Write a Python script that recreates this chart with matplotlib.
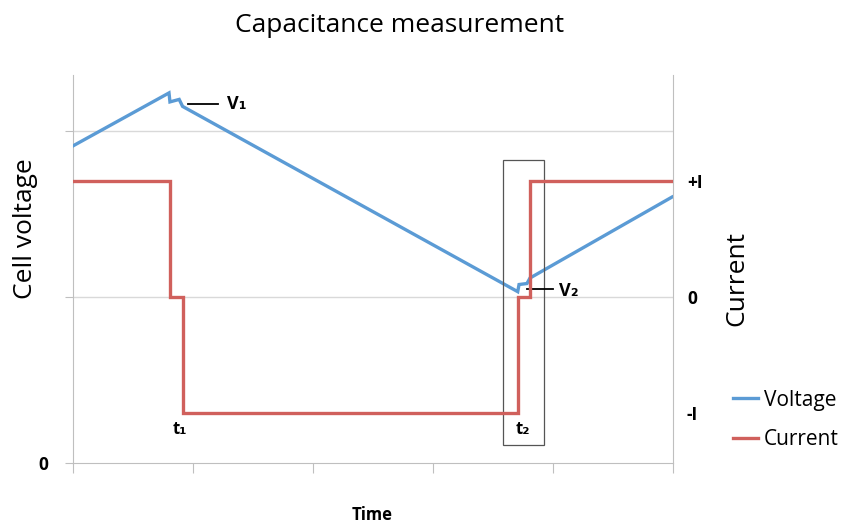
import matplotlib
matplotlib.use("Agg")
import matplotlib.pyplot as plt
from matplotlib.patches import Rectangle

plt.rcParams['font.family'] = ['Open Sans', 'DejaVu Sans']

# ---- data (x in tick-interval units) ----
volt_x = [0.0, 0.80, 0.808, 0.885, 0.913, 3.706, 3.717, 3.783, 3.808, 4.992]
volt_y = [1.910, 2.229, 2.175, 2.190, 2.148, 1.032, 1.075, 1.081, 1.114, 1.602]
curr_x = [0.0, 0.808, 0.808, 0.913, 0.913, 3.706, 3.706, 3.808, 3.808, 4.992]
curr_y = [1, 1, 0, 0, -1, -1, 0, 0, 1, 1]
x_ticks = [0, 1, 2, 3, 4, 5]
left_ticks = [0, 1, 2]
left_labels = ['0', '', '']
right_ticks = [-1, 0, 1]
right_labels = ['-I', '0', '+I']

blue = '#5B9BD5'
red = '#D0605C'
grid_c = '#D9D9D9'
axis_c = '#BFBFBF'

fig = plt.figure(figsize=(8.42, 5.24), dpi=100)
ax = fig.add_axes([73/842, 1-463/524, 600/842, 388/524])
ax2 = ax.twinx()

ax.set_xlim(0, 5)
ax.set_ylim(0, 2.337)
ax2.set_ylim(-1.431, 1.914)

# gridlines
for yv in [1, 2]:
    ax.axhline(yv, color=grid_c, lw=1, zorder=0)

lv, = ax.plot(volt_x, volt_y, color=blue, lw=2.4, solid_joinstyle='miter', zorder=3)
lc, = ax2.plot(curr_x, curr_y, color=red, lw=2.4, solid_joinstyle='miter', zorder=3)

# box around t2
ax.add_patch(Rectangle((3.583, 0.108), 0.342, 1.717, fill=False,
                       edgecolor='#555555', lw=0.9, zorder=4))

# annotations
ax.plot([0.958, 1.208], [2.163, 2.163], color='black', lw=1.3, zorder=5)
ax.text(1.28, 2.163, 'V\u2081', fontsize=13, fontweight='bold', va='center', ha='left')
ax.plot([3.783, 4.0], [1.048, 1.048], color='black', lw=1.3, zorder=5)
ax.text(4.05, 1.035, 'V\u2082', fontsize=13, fontweight='bold', va='center', ha='left')
ax.text(0.89, 0.205, 't\u2081', fontsize=12, fontweight='bold', va='center', ha='center')
ax.text(3.75, 0.205, 't\u2082', fontsize=12, fontweight='bold', va='center', ha='center')

# spines & ticks
for a in (ax, ax2):
    for s in a.spines.values():
        s.set_visible(False)
ax.spines['left'].set_visible(True)
ax.spines['left'].set_color(axis_c)
ax.spines['bottom'].set_visible(True)
ax.spines['bottom'].set_color(axis_c)
ax2.spines['right'].set_visible(True)
ax2.spines['right'].set_color(axis_c)

ax.set_xticks(x_ticks)
ax.set_xticklabels([])
ax.tick_params(axis='x', direction='out', length=7, color=axis_c)
ax.set_yticks(left_ticks)
ax.set_yticklabels(left_labels, fontsize=12.5, fontweight='bold')
ax.tick_params(axis='y', direction='out', length=6, color=axis_c, pad=12)
ax2.set_yticks(right_ticks)
ax2.set_yticklabels(right_labels, fontsize=12.5, fontweight='bold')
ax2.tick_params(axis='y', length=0, pad=10)

fig.text(372/842, 1-515/524, 'Time', fontsize=12, fontweight='bold', ha='center', va='center')
fig.text(26/842, 1-229/524, 'Cell voltage', fontsize=19, rotation=90, ha='center', va='center')
fig.text(737/842, 1-278/524, 'Current', fontsize=19, rotation=90, ha='center', va='center')

fig.text(400/842, 1-25/524, 'Capacitance measurement', fontsize=19, ha='center', va='center')

fig.legend([lv, lc], ['Voltage', 'Current'], loc='center left',
           bbox_to_anchor=(714/842, 1-420/524), frameon=False, fontsize=15,
           handlelength=1.2, handletextpad=0.3, labelspacing=0.9)

fig.savefig('out.png', dpi=100)
